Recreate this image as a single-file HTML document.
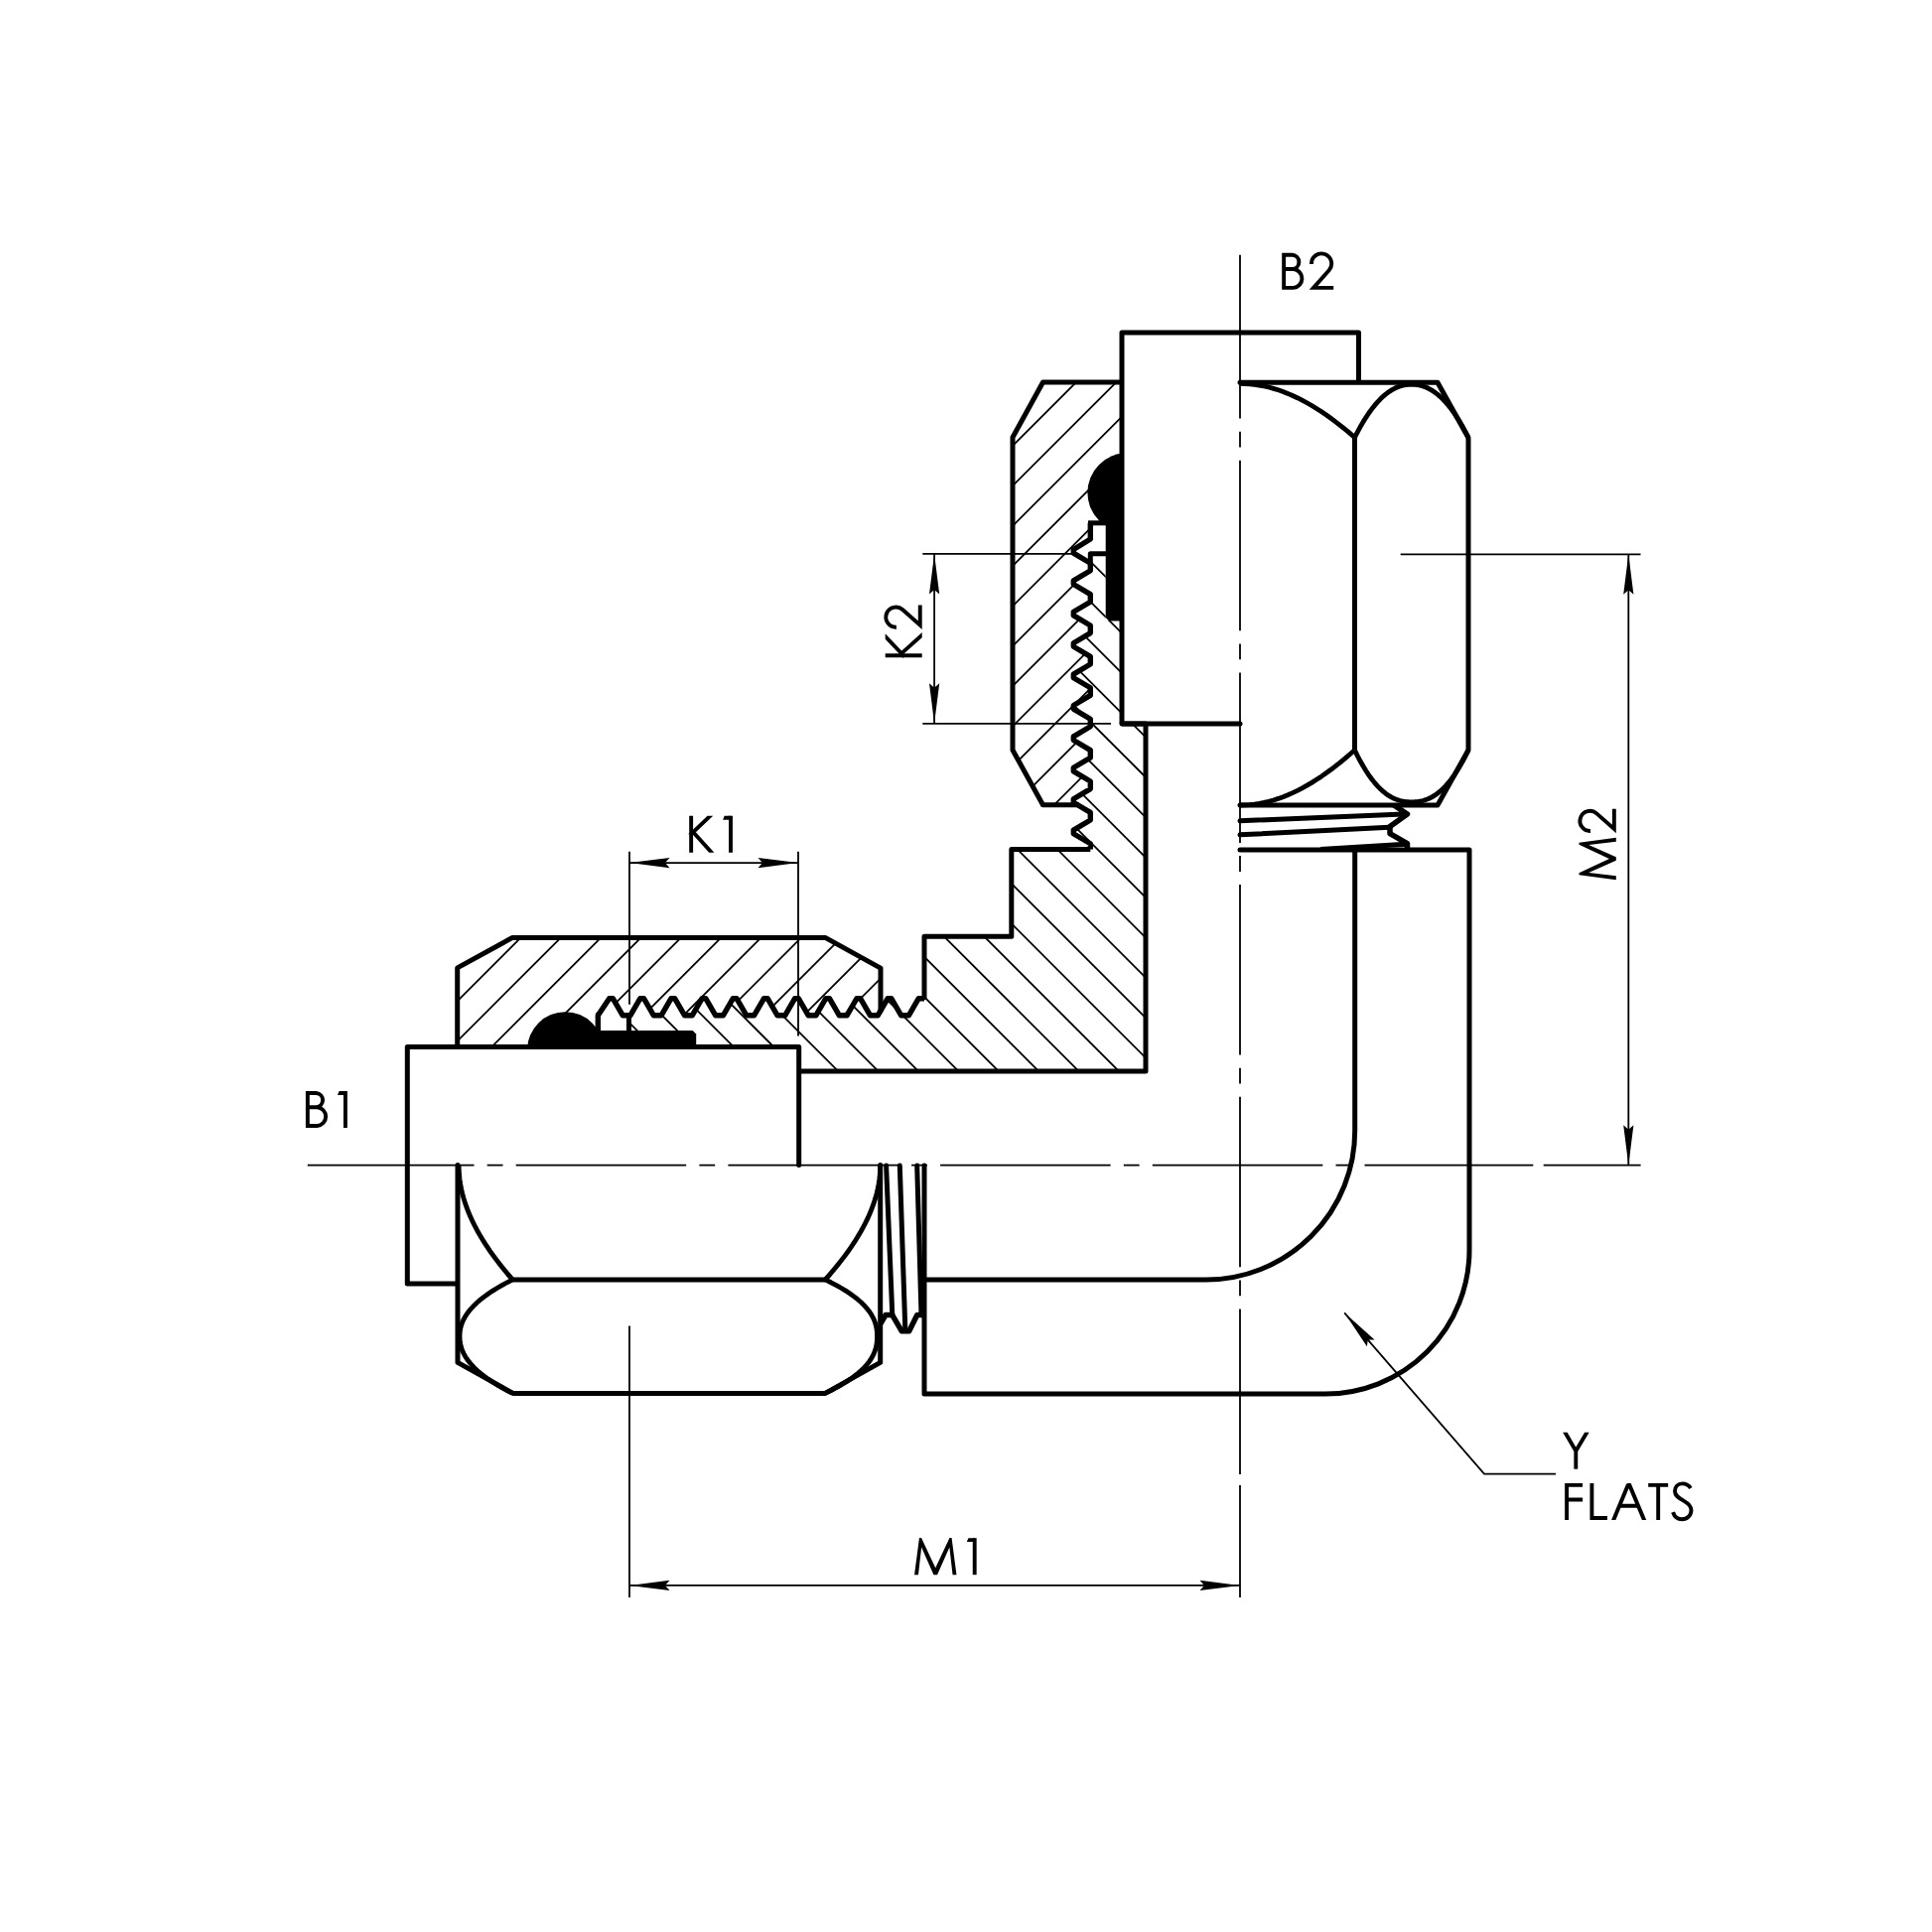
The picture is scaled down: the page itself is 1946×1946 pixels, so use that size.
<!DOCTYPE html>
<html><head><meta charset="utf-8"><title>Elbow fitting</title>
<style>
html,body{margin:0;padding:0;background:#fff;}
svg{display:block;}
.k{fill:none;stroke:#000;stroke-width:5.0;stroke-linejoin:round;stroke-linecap:butt;}
.n{fill:none;stroke:#000;stroke-width:1.8;}
text{font-family:"Liberation Sans",sans-serif;font-size:51px;fill:#000;}
</style></head><body>
<svg width="1946" height="1946" viewBox="0 0 1946 1946">
<rect width="1946" height="1946" fill="#fff"/>
<defs>
<clipPath id="cnv"><path d="M1130 385 L1050.5 385 L1020 440.5 L1020 755.5 L1050.5 810.8 L1085.51 810.8 L1081.3 808.3 L1081.3 804.7 L1098.3 794.6 L1098.3 787 L1081.3 776.9 L1081.3 773.3 L1098.3 763.2 L1098.3 755.6 L1081.3 745.5 L1081.3 741.9 L1098.3 731.8 L1098.3 724.2 L1081.3 714.1 L1081.3 710.5 L1098.3 700.4 L1098.3 692.8 L1081.3 682.7 L1081.3 679.1 L1098.3 669 L1098.3 661.4 L1081.3 651.3 L1081.3 647.7 L1098.3 637.6 L1098.3 630 L1081.3 619.9 L1081.3 616.3 L1098.3 606.2 L1098.3 598.6 L1081.3 588.5 L1081.3 584.9 L1098.3 574.8 L1098.3 567.2 L1081.3 557.1 L1081.3 553.5 L1098.3 543 L1098.3 526.8 L1098.3 509 L1130 509 Z"/></clipPath>
<clipPath id="cnh"><path d="M461 1055 L461 975.5 L516 944 L831 944 L887 975.3 L887 1017.93 L884.16 1022.8 L876.56 1022.8 L866.58 1005.7 L862.98 1005.7 L853 1022.8 L845.4 1022.8 L835.42 1005.7 L831.82 1005.7 L821.84 1022.8 L814.24 1022.8 L804.26 1005.7 L800.66 1005.7 L790.68 1022.8 L783.08 1022.8 L773.1 1005.7 L769.5 1005.7 L759.52 1022.8 L751.92 1022.8 L741.94 1005.7 L738.34 1005.7 L728.36 1022.8 L720.76 1022.8 L710.78 1005.7 L707.18 1005.7 L697.2 1022.8 L689.6 1022.8 L679.62 1005.7 L676.02 1005.7 L666.04 1022.8 L658.44 1022.8 L648.46 1005.7 L644.86 1005.7 L634.88 1022.8 L627.28 1022.8 L617.3 1005.7 L613.7 1005.7 L602.3 1022.8 L585 1022.8 L585 1055 Z"/></clipPath>
<clipPath id="cb"><path d="M1098.3 557.8 L1113.7 557.8 L1113.7 625 L1130 625 L1130 729 L1154 729 L1154 1079 L804 1079 L804 1055 L701 1055 L701 1038.8 L634 1038.8 L634 1022.8 L634.88 1022.8 L644.86 1005.7 L648.46 1005.7 L658.44 1022.8 L666.04 1022.8 L676.02 1005.7 L679.62 1005.7 L689.6 1022.8 L697.2 1022.8 L707.18 1005.7 L710.78 1005.7 L720.76 1022.8 L728.36 1022.8 L738.34 1005.7 L741.94 1005.7 L751.92 1022.8 L759.52 1022.8 L769.5 1005.7 L773.1 1005.7 L783.08 1022.8 L790.68 1022.8 L800.66 1005.7 L804.26 1005.7 L814.24 1022.8 L821.84 1022.8 L831.82 1005.7 L835.42 1005.7 L845.4 1022.8 L853 1022.8 L862.98 1005.7 L866.58 1005.7 L876.56 1022.8 L884.16 1022.8 L894.14 1005.7 L897.74 1005.7 L907.72 1022.8 L915.32 1022.8 L925.3 1005.7 L931 1005.7 L931 943.3 L1018.8 943.3 L1018.8 855.6 L1098.3 855.6 L1098.3 849.8 L1081.3 839.7 L1081.3 836.1 L1098.3 826 L1098.3 818.4 L1081.3 808.3 L1081.3 804.7 L1098.3 794.6 L1098.3 787 L1081.3 776.9 L1081.3 773.3 L1098.3 763.2 L1098.3 755.6 L1081.3 745.5 L1081.3 741.9 L1098.3 731.8 L1098.3 724.2 L1081.3 714.1 L1081.3 710.5 L1098.3 700.4 L1098.3 692.8 L1081.3 682.7 L1081.3 679.1 L1098.3 669 L1098.3 661.4 L1081.3 651.3 L1081.3 647.7 L1098.3 637.6 L1098.3 630 L1081.3 619.9 L1081.3 616.3 L1098.3 606.2 L1098.3 598.6 L1081.3 588.5 L1081.3 584.9 L1098.3 574.8 L1098.3 567.2 Z"/></clipPath>
</defs>
<path d="M-252.05 1600 L1047.95 300 M-211.7 1600 L1088.3 300 M-171.35 1600 L1128.65 300 M-131 1600 L1169 300 M-90.65 1600 L1209.35 300 M-50.3 1600 L1249.7 300 M-9.95 1600 L1290.05 300 M30.4 1600 L1330.4 300 M70.75 1600 L1370.75 300 M111.1 1600 L1411.1 300 M151.45 1600 L1451.45 300 M191.8 1600 L1491.8 300 M232.15 1600 L1532.15 300 M272.5 1600 L1572.5 300 M312.85 1600 L1612.85 300 M353.2 1600 L1653.2 300 M393.55 1600 L1693.55 300 M433.9 1600 L1733.9 300 M474.25 1600 L1774.25 300 M514.6 1600 L1814.6 300 M554.95 1600 L1854.95 300 M595.3 1600 L1895.3 300 M635.65 1600 L1935.65 300 M676 1600 L1976 300 M716.35 1600 L2016.35 300 M756.7 1600 L2056.7 300 M797.05 1600 L2097.05 300 M837.4 1600 L2137.4 300 M877.75 1600 L2177.75 300 M918.1 1600 L2218.1 300 M958.45 1600 L2258.45 300 M998.8 1600 L2298.8 300 M1039.15 1600 L2339.15 300 M1079.5 1600 L2379.5 300 M1119.85 1600 L2419.85 300 M1160.2 1600 L2460.2 300 M1200.55 1600 L2500.55 300 M1240.9 1600 L2540.9 300 M1281.25 1600 L2581.25 300 M1321.6 1600 L2621.6 300 M1361.95 1600 L2661.95 300 M1402.3 1600 L2702.3 300 M1442.65 1600 L2742.65 300 " class="n" clip-path="url(#cnv)"/>
<path d="M-252.05 1600 L1047.95 300 M-211.7 1600 L1088.3 300 M-171.35 1600 L1128.65 300 M-131 1600 L1169 300 M-90.65 1600 L1209.35 300 M-50.3 1600 L1249.7 300 M-9.95 1600 L1290.05 300 M30.4 1600 L1330.4 300 M70.75 1600 L1370.75 300 M111.1 1600 L1411.1 300 M151.45 1600 L1451.45 300 M191.8 1600 L1491.8 300 M232.15 1600 L1532.15 300 M272.5 1600 L1572.5 300 M312.85 1600 L1612.85 300 M353.2 1600 L1653.2 300 M393.55 1600 L1693.55 300 M433.9 1600 L1733.9 300 M474.25 1600 L1774.25 300 M514.6 1600 L1814.6 300 M554.95 1600 L1854.95 300 M595.3 1600 L1895.3 300 M635.65 1600 L1935.65 300 M676 1600 L1976 300 M716.35 1600 L2016.35 300 M756.7 1600 L2056.7 300 M797.05 1600 L2097.05 300 M837.4 1600 L2137.4 300 M877.75 1600 L2177.75 300 M918.1 1600 L2218.1 300 M958.45 1600 L2258.45 300 M998.8 1600 L2298.8 300 M1039.15 1600 L2339.15 300 M1079.5 1600 L2379.5 300 M1119.85 1600 L2419.85 300 M1160.2 1600 L2460.2 300 M1200.55 1600 L2500.55 300 M1240.9 1600 L2540.9 300 M1281.25 1600 L2581.25 300 M1321.6 1600 L2621.6 300 M1361.95 1600 L2661.95 300 M1402.3 1600 L2702.3 300 M1442.65 1600 L2742.65 300 " class="n" clip-path="url(#cnh)"/>
<path d="M-419.4 300 L880.6 1600 M-379.01 300 L920.99 1600 M-338.62 300 L961.38 1600 M-298.23 300 L1001.77 1600 M-257.84 300 L1042.16 1600 M-217.45 300 L1082.55 1600 M-177.06 300 L1122.94 1600 M-136.67 300 L1163.33 1600 M-96.28 300 L1203.72 1600 M-55.89 300 L1244.11 1600 M-15.5 300 L1284.5 1600 M24.89 300 L1324.89 1600 M65.28 300 L1365.28 1600 M105.67 300 L1405.67 1600 M146.06 300 L1446.06 1600 M186.45 300 L1486.45 1600 M226.84 300 L1526.84 1600 M267.23 300 L1567.23 1600 M307.62 300 L1607.62 1600 M348.01 300 L1648.01 1600 M388.4 300 L1688.4 1600 M428.79 300 L1728.79 1600 M469.18 300 L1769.18 1600 M509.57 300 L1809.57 1600 M549.96 300 L1849.96 1600 M590.35 300 L1890.35 1600 M630.74 300 L1930.74 1600 M671.13 300 L1971.13 1600 M711.52 300 L2011.52 1600 M751.91 300 L2051.91 1600 M792.3 300 L2092.3 1600 M832.69 300 L2132.69 1600 M873.08 300 L2173.08 1600 M913.47 300 L2213.47 1600 M953.86 300 L2253.86 1600 M994.25 300 L2294.25 1600 M1034.64 300 L2334.64 1600 M1075.03 300 L2375.03 1600 M1115.42 300 L2415.42 1600 M1155.81 300 L2455.81 1600 " class="n" clip-path="url(#cb)"/>
<defs><clipPath id="ocID"><rect x="1080" y="440" width="50" height="86.8"/></clipPath><clipPath id="ocTR"><rect x="516" y="1005" width="86.3" height="50"/></clipPath></defs>
<path d="M1130 729 L1130 335 L1368.5 335 L1368.5 385" class="k" />
<path d="M1130 729 L1249 729" class="k" style="stroke-linecap:round"/>
<path d="M1130 385 L1050.5 385 L1020 440.5 L1020 755.5 L1050.5 810.8" class="k" />
<path d="M1249 385.3 L1448 385.3 L1479 441 L1479 755.5 L1448 811 L1249 811" class="k" style="stroke-linecap:round"/>
<path d="M1364.5 440.5 L1364.5 755.5" class="k" />
<path d="M1249 386.4 L1253.81 386.5 L1258.62 386.81 L1263.44 387.31 L1268.25 388.02 L1273.06 388.93 L1277.88 390.03 L1282.69 391.34 L1287.5 392.83 L1292.31 394.52 L1297.12 396.4 L1301.94 398.46 L1306.75 400.71 L1311.56 403.14 L1316.38 405.74 L1321.19 408.52 L1326 411.46 L1330.81 414.57 L1335.62 417.84 L1340.44 421.27 L1345.25 424.85 L1350.06 428.57 L1354.88 432.44 L1359.69 436.45 L1364.5 440.6" class="k" style="stroke-width:4.8"/>
<path d="M1249 811 L1253.81 810.9 L1258.62 810.58 L1263.44 810.07 L1268.25 809.34 L1273.06 808.41 L1277.88 807.28 L1282.69 805.95 L1287.5 804.41 L1292.31 802.68 L1297.12 800.76 L1301.94 798.65 L1306.75 796.34 L1311.56 793.86 L1316.38 791.19 L1321.19 788.35 L1326 785.34 L1330.81 782.15 L1335.62 778.8 L1340.44 775.3 L1345.25 771.63 L1350.06 767.81 L1354.88 763.85 L1359.69 759.75 L1364.5 755.5" class="k" style="stroke-width:4.8"/>
<path d="M1364.5 440.6 L1367.36 435.03 L1370.22 429.8 L1373.09 424.88 L1375.95 420.29 L1378.81 416.02 L1381.67 412.06 L1384.54 408.41 L1387.4 405.07 L1390.26 402.04 L1393.12 399.31 L1395.99 396.87 L1398.85 394.73 L1401.71 392.88 L1404.58 391.3 L1407.44 390.01 L1410.3 388.97 L1413.16 388.2 L1416.03 387.68 L1418.89 387.39 L1421.75 387.3 L1424.61 387.39 L1427.47 387.68 L1430.34 388.2 L1433.2 388.97 L1436.06 390.01 L1438.92 391.3 L1441.79 392.88 L1444.65 394.73 L1447.51 396.87 L1450.38 399.31 L1453.24 402.04 L1456.1 405.07 L1458.96 408.41 L1461.83 412.06 L1464.69 416.02 L1467.55 420.29 L1470.41 424.88 L1473.28 429.8 L1476.14 435.03 L1479 440.6" class="k" style="stroke-width:4.8"/>
<path d="M1364.5 755.5 L1367.36 761.32 L1370.22 766.76 L1373.09 771.81 L1375.95 776.5 L1378.81 780.81 L1381.67 784.77 L1384.54 788.38 L1387.4 791.65 L1390.26 794.58 L1393.12 797.18 L1395.99 799.47 L1398.85 801.44 L1401.71 803.12 L1404.58 804.52 L1407.44 805.64 L1410.3 806.51 L1413.16 807.13 L1416.03 807.54 L1418.89 807.75 L1421.75 807.8 L1424.61 807.75 L1427.47 807.54 L1430.34 807.13 L1433.2 806.51 L1436.06 805.64 L1438.92 804.52 L1441.79 803.12 L1444.65 801.44 L1447.51 799.47 L1450.38 797.18 L1453.24 794.58 L1456.1 791.65 L1458.96 788.38 L1461.83 784.77 L1464.69 780.81 L1467.55 776.5 L1470.41 771.81 L1473.28 766.76 L1476.14 761.32 L1479 755.5" class="k" style="stroke-width:4.8"/>
<circle cx="1135.4" cy="496.2" r="40" fill="#000" clip-path="url(#ocID)"/>
<path d="M1113.7 518 L1132 518 L1132 625.5 L1117 625.5 L1113.7 622 Z" fill="#000"/>
<path d="M1096 526.8 L1114 526.8" class="k" />
<path d="M1098.3 566 L1098.3 557.8 L1114 557.8" class="k" />
<path d="M804.7 1054.4 L410.3 1054.4 L410.3 1292.9 L460.7 1292.9" class="k" />
<path d="M804.7 1054.4 L804.7 1173.4" class="k" style="stroke-linecap:round"/>
<path d="M460.7 1054.4 L460.7 974.9 L516.2 944.4 L831.2 944.4 L886.5 974.9" class="k" />
<path d="M461 1173.4 L461 1372.4 L516.7 1403.4 L831.2 1403.4 L886.7 1372.4 L886.7 1173.4" class="k" style="stroke-linecap:round"/>
<path d="M516.2 1288.9 L831.2 1288.9" class="k" />
<path d="M462.1 1173.4 L462.2 1178.21 L462.51 1183.03 L463.01 1187.84 L463.72 1192.65 L464.63 1197.46 L465.73 1202.28 L467.04 1207.09 L468.53 1211.9 L470.22 1216.71 L472.1 1221.53 L474.16 1226.34 L476.41 1231.15 L478.84 1235.96 L481.44 1240.78 L484.22 1245.59 L487.16 1250.4 L490.27 1255.21 L493.54 1260.03 L496.97 1264.84 L500.55 1269.65 L504.27 1274.46 L508.14 1279.28 L512.15 1284.09 L516.3 1288.9" class="k" style="stroke-width:4.8"/>
<path d="M886.7 1173.4 L886.6 1178.21 L886.28 1183.03 L885.77 1187.84 L885.04 1192.65 L884.11 1197.46 L882.98 1202.28 L881.65 1207.09 L880.11 1211.9 L878.38 1216.71 L876.46 1221.53 L874.35 1226.34 L872.04 1231.15 L869.56 1235.96 L866.89 1240.78 L864.05 1245.59 L861.04 1250.4 L857.85 1255.21 L854.5 1260.03 L851 1264.84 L847.33 1269.65 L843.51 1274.46 L839.55 1279.28 L835.45 1284.09 L831.2 1288.9" class="k" style="stroke-width:4.8"/>
<path d="M516.3 1288.9 L510.73 1291.76 L505.5 1294.62 L500.58 1297.49 L495.99 1300.35 L491.72 1303.21 L487.76 1306.08 L484.11 1308.94 L480.77 1311.8 L477.74 1314.66 L475.01 1317.53 L472.57 1320.39 L470.43 1323.25 L468.58 1326.11 L467 1328.98 L465.71 1331.84 L464.67 1334.7 L463.9 1337.56 L463.38 1340.43 L463.09 1343.29 L463 1346.15 L463.09 1349.01 L463.38 1351.88 L463.9 1354.74 L464.67 1357.6 L465.71 1360.46 L467 1363.33 L468.58 1366.19 L470.43 1369.05 L472.57 1371.91 L475.01 1374.78 L477.74 1377.64 L480.77 1380.5 L484.11 1383.36 L487.76 1386.23 L491.72 1389.09 L495.99 1391.95 L500.58 1394.81 L505.5 1397.68 L510.73 1400.54 L516.3 1403.4" class="k" style="stroke-width:4.8"/>
<path d="M831.2 1288.9 L837.02 1291.76 L842.46 1294.62 L847.51 1297.49 L852.2 1300.35 L856.51 1303.21 L860.47 1306.08 L864.08 1308.94 L867.35 1311.8 L870.28 1314.66 L872.88 1317.53 L875.17 1320.39 L877.14 1323.25 L878.82 1326.11 L880.22 1328.98 L881.34 1331.84 L882.21 1334.7 L882.83 1337.56 L883.24 1340.43 L883.45 1343.29 L883.5 1346.15 L883.45 1349.01 L883.24 1351.88 L882.83 1354.74 L882.21 1357.6 L881.34 1360.46 L880.22 1363.33 L878.82 1366.19 L877.14 1369.05 L875.17 1371.91 L872.88 1374.78 L870.28 1377.64 L867.35 1380.5 L864.08 1383.36 L860.47 1386.23 L856.51 1389.09 L852.2 1391.95 L847.51 1394.81 L842.46 1397.68 L837.02 1400.54 L831.2 1403.4" class="k" style="stroke-width:4.8"/>
<circle cx="569.4" cy="1057.5" r="38.3" fill="#000" clip-path="url(#ocTR)"/>
<path d="M593.7 1038.1 L593.7 1056.4 L701.2 1056.4 L701.2 1041.4 L697.7 1038.1 Z" fill="#000"/>
<path d="M602.5 1020.4 L602.5 1038.4" class="k" />
<path d="M633.5 1022.7 L633.5 1038.4" class="k" />
<path d="M1050.5 810.8 L1085.51 810.8" class="k" style="stroke-linecap:round"/>
<path d="M887 975.3 L887 1017.93" class="k" style="stroke-linecap:round"/>
<path d="M1098.3 526.8 L1098.3 543 L1081.3 553.5 L1081.3 557.1 L1098.3 567.2 L1098.3 574.8 L1081.3 584.9 L1081.3 588.5 L1098.3 598.6 L1098.3 606.2 L1081.3 616.3 L1081.3 619.9 L1098.3 630 L1098.3 637.6 L1081.3 647.7 L1081.3 651.3 L1098.3 661.4 L1098.3 669 L1081.3 679.1 L1081.3 682.7 L1098.3 692.8 L1098.3 700.4 L1081.3 710.5 L1081.3 714.1 L1098.3 724.2 L1098.3 731.8 L1081.3 741.9 L1081.3 745.5 L1098.3 755.6 L1098.3 763.2 L1081.3 773.3 L1081.3 776.9 L1098.3 787 L1098.3 794.6 L1081.3 804.7 L1081.3 808.3 L1098.3 818.4 L1098.3 826 L1081.3 836.1 L1081.3 839.7 L1098.3 849.8 L1098.3 855.6" class="k" style="stroke-linejoin:round;stroke-width:5.4"/>
<path d="M602.3 1038.8 L602.3 1022.8 L613.7 1005.7 L617.3 1005.7 L627.28 1022.8 L634.88 1022.8 L644.86 1005.7 L648.46 1005.7 L658.44 1022.8 L666.04 1022.8 L676.02 1005.7 L679.62 1005.7 L689.6 1022.8 L697.2 1022.8 L707.18 1005.7 L710.78 1005.7 L720.76 1022.8 L728.36 1022.8 L738.34 1005.7 L741.94 1005.7 L751.92 1022.8 L759.52 1022.8 L769.5 1005.7 L773.1 1005.7 L783.08 1022.8 L790.68 1022.8 L800.66 1005.7 L804.26 1005.7 L814.24 1022.8 L821.84 1022.8 L831.82 1005.7 L835.42 1005.7 L845.4 1022.8 L853 1022.8 L862.98 1005.7 L866.58 1005.7 L876.56 1022.8 L884.16 1022.8 L894.14 1005.7 L897.74 1005.7 L907.72 1022.8 L915.32 1022.8 L925.3 1005.7 L931 1005.7" class="k" style="stroke-linejoin:round;stroke-width:5.4"/>
<path d="M1098.3 855.6 L1018.8 855.6 L1018.8 943.3 L931 943.3 L931 1007" class="k" />
<path d="M1130 729 L1154 729 L1154 1079 L804 1079" class="k" style="stroke-linejoin:round"/>
<path d="M1249 856 L1480 856 L1480 1259 A145 145 0 0 1 1335 1404 L931 1404 L931 1174" class="k" style="stroke-linecap:round"/>
<path d="M1364.7 856 L1364.7 1139 A150 150 0 0 1 1214.7 1289 L931 1289" class="k" />
<path d="M1249 826.8 L1414 820" class="k" style="stroke-linecap:round"/>
<path d="M1249 840.8 L1399.5 833.3" class="k" style="stroke-linecap:round"/>
<path d="M1330 855.5 L1416 850.3" class="k" />
<path d="M1404 811 L1417.5 820 L1400 832.6 L1400 839.6 L1417.5 849.6 L1417.5 856" class="k" style="stroke-linejoin:round;stroke-width:5.5"/>
<path d="M892.6 1174 L898.8 1324.6" class="k" style="stroke-linecap:round"/>
<path d="M906.3 1174 L911.8 1339" class="k" style="stroke-linecap:round"/>
<path d="M923.7 1174 L928 1324.6" class="k" style="stroke-linecap:round"/>
<path d="M887 1333 L892 1324.6 L898.8 1324.6 L908.3 1340.8 L915.7 1340.8 L923.7 1324.6 L931 1324.6" class="k" style="stroke-linejoin:round;stroke-width:5.5"/>
<path d="M309.8 1173.7 L1544.3 1173.7" class="n" stroke-dasharray="171.5 13.2 15.8 13.2" stroke-dashoffset="3.8"/>
<path d="M1249 256.8 L1249 1485.1" class="n" stroke-dasharray="171.5 13.2 15.8 13.2" stroke-dashoffset="6.8"/>
<path d="M929.3 557.9 L1081 557.9 M929.3 728.8 L1119 728.8 M941.1 558 L941.1 728.7" class="n" />
<path d="M0 0 L-40.5 -5.1 L-36 0 L-40.5 5.1 Z" fill="#000" transform="translate(941.1 557.9) rotate(-90)"/>
<path d="M0 0 L-40.5 -5.1 L-36 0 L-40.5 5.1 Z" fill="#000" transform="translate(941.1 728.8) rotate(90)"/>
<path d="M634 857.7 L634 1011.7 M804 857.7 L804 1043.4 M634 869.1 L804 869.1" class="n" />
<path d="M0 0 L-40.5 -5.1 L-36 0 L-40.5 5.1 Z" fill="#000" transform="translate(634 869.1) rotate(180)"/>
<path d="M0 0 L-40.5 -5.1 L-36 0 L-40.5 5.1 Z" fill="#000" transform="translate(804 869.1) rotate(0)"/>
<path d="M1410.7 558.3 L1652.5 558.3 M1554.7 1173.7 L1652.6 1173.7 M1640.3 558.4 L1640.3 1173.6" class="n" />
<path d="M0 0 L-40.5 -5.1 L-36 0 L-40.5 5.1 Z" fill="#000" transform="translate(1640.3 558.3) rotate(-90)"/>
<path d="M0 0 L-40.5 -5.1 L-36 0 L-40.5 5.1 Z" fill="#000" transform="translate(1640.3 1173.7) rotate(90)"/>
<path d="M634 1335.6 L634 1609 M1249 1496 L1249 1609 M634 1596.9 L1249 1596.9" class="n" />
<path d="M0 0 L-40.5 -5.1 L-36 0 L-40.5 5.1 Z" fill="#000" transform="translate(634 1596.9) rotate(180)"/>
<path d="M0 0 L-40.5 -5.1 L-36 0 L-40.5 5.1 Z" fill="#000" transform="translate(1249 1596.9) rotate(0)"/>
<path d="M1354.2 1322.3 L1495 1484.7 L1567.1 1484.7" class="n" />
<path d="M0 0 L-40.5 -5.1 L-36 0 L-40.5 5.1 Z" fill="#000" transform="translate(1354.2 1322.3) rotate(-130.93)"/>
<g transform="translate(1291.2 291.8)"><path d="M1.95 -1.95 L1.95 -35.05 L10.65 -35.05 A7.18 7.18 0 0 1 10.65 -20.75 L1.95 -20.75 M10.65 -20.75 L11.55 -20.75 A9.43 9.43 0 0 1 11.55 -1.95 L0 -1.95 M29.8 -25.8 A10.1 10.1 0 1 1 47.46 -19.6 L31.8 -1.95 L52 -1.95" fill="none" stroke="#000" stroke-width="3.9" stroke-linejoin="miter"/><path d="" fill="#000"/></g>
<g transform="translate(307.9 1136)"><path d="M1.95 -1.95 L1.95 -35.05 L10.65 -35.05 A7.18 7.18 0 0 1 10.65 -20.75 L1.95 -20.75 M10.65 -20.75 L11.55 -20.75 A9.43 9.43 0 0 1 11.55 -1.95 L0 -1.95 M40 0 L40 -37" fill="none" stroke="#000" stroke-width="3.9" stroke-linejoin="miter"/><path d="M33.7 -37 L40 -37 L40 -33.1 L32.1 -33.1 Z" fill="#000"/></g>
<g transform="translate(694.2 858.8)"><path d="M1.95 0 L1.95 -37 M41.8 0 L41.8 -37" fill="none" stroke="#000" stroke-width="3.9" stroke-linejoin="miter"/><path d="M18.36 -37 L24.04 -37 L4.59 -18.6 L-1.09 -18.6 ZM0.58 -21.6 L5.82 -21.6 L25.22 0 L19.98 0 Z M35.5 -37 L41.8 -37 L41.8 -33.1 L33.9 -33.1 Z" fill="#000"/></g>
<g transform="translate(921.05 1586.2)"><path d="M60.65 0 L60.65 -37" fill="none" stroke="#000" stroke-width="3.9" stroke-linejoin="miter"/><path d="M0 0 L4.9 -37.3 L7 -37.3 L21.2 -6.9 L35.4 -37.3 L37.5 -37.3 L42.4 0 L38.5 0 L35.3 -27.6 L23 0 L19.4 0 L7.1 -27.6 L3.9 0 Z  M54.35 -37 L60.65 -37 L60.65 -33.1 L52.75 -33.1 Z" fill="#000"/></g>
<g transform="translate(1574.1 1479.7)"><path d="M13.2 0 L13.2 -20" fill="none" stroke="#000" stroke-width="3.9" stroke-linejoin="miter"/><path d="M0.04 -37 L4.56 -37 L15.46 -18.3 L10.94 -18.3 ZM22.03 -37 L26.57 -37 L15.47 -18.3 L10.93 -18.3 Z" fill="#000"/></g>
<g transform="translate(1576.15 1530.9)"><path d="M1.95 0 L1.95 -35.05 L17.95 -35.05 M1.95 -20.4 L17.95 -20.4 M27.25 -37 L27.25 -1.95 L42.8 -1.95 M55.5 -14.2 L73.5 -14.2 M84.05 -35.05 L104.05 -35.05 M94.05 0 L94.05 -35.05 M126.75 -31.9 C124.75 -35.2 121.75 -36.5 118.45 -36.5 C113.75 -36.5 110.85 -33 110.85 -28.8 C110.85 -24.5 114.25 -22.3 119.65 -19.3 C124.75 -16.4 127.35 -14 127.35 -9.8 C127.35 -4.5 123.25 -0.6 118.05 -0.6 C113.25 -0.6 110.25 -3.5 108.95 -7.7" fill="none" stroke="#000" stroke-width="3.9" stroke-linejoin="miter"/><path d="M62.24 -37 L66.56 -37 L51.26 0 L46.94 0 ZM62.23 -37 L66.57 -37 L82.07 0 L77.73 0 Z" fill="#000"/></g>
<g transform="translate(928.7 662.2) rotate(-90)"><path d="M1.95 0 L1.95 -37 M30.5 -25.8 A10.1 10.1 0 1 1 48.16 -19.6 L32.5 -1.95 L52.7 -1.95" fill="none" stroke="#000" stroke-width="3.9" stroke-linejoin="miter"/><path d="M18.36 -37 L24.04 -37 L4.59 -18.6 L-1.09 -18.6 ZM0.58 -21.6 L5.82 -21.6 L25.22 0 L19.98 0 Z" fill="#000"/></g>
<g transform="translate(1627.8 886.2) rotate(-90)"><path d="M49.2 -25.8 A10.1 10.1 0 1 1 66.86 -19.6 L51.2 -1.95 L71.4 -1.95" fill="none" stroke="#000" stroke-width="3.9" stroke-linejoin="miter"/><path d="M0 0 L4.9 -37.3 L7 -37.3 L21.2 -6.9 L35.4 -37.3 L37.5 -37.3 L42.4 0 L38.5 0 L35.3 -27.6 L23 0 L19.4 0 L7.1 -27.6 L3.9 0 Z" fill="#000"/></g>
</svg>
</body></html>
